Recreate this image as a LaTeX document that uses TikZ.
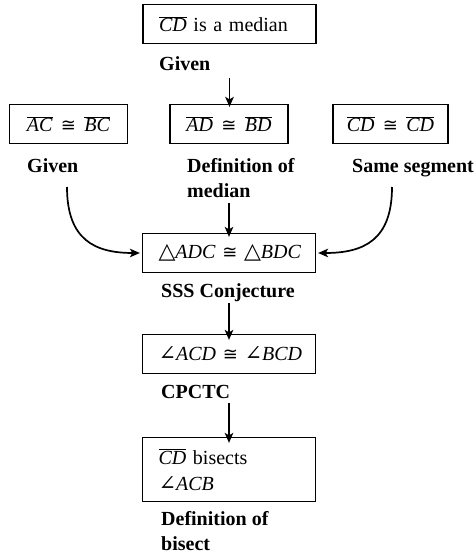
\documentclass[tikz,border=0pt]{standalone}
\usepackage{fontspec}
\setmainfont{Liberation Serif}
\newfontfamily\symf{DejaVu Serif}
\newfontfamily\symsans{DejaVu Sans}
\usetikzlibrary{arrows.meta}
\newcommand{\seg}[1]{$\overline{\mbox{\textit{#1}}}$}
\newcommand{\cng}{{\symsans\fontsize{18}{24}\selectfont ≅}}
\newcommand{\angl}{{\symf\fontsize{21}{24}\selectfont ∠}}
\newcommand{\trig}{{\symf\fontsize{22}{24}\selectfont △}}
\begin{document}
\begin{tikzpicture}[x=1pt,y=-1pt,
  stepbox/.style={draw, line width=1.2pt, inner sep=0pt, font=\fontsize{20}{25}\selectfont},
  widebox/.style={stepbox, minimum width=173pt, minimum height=39pt, text width=141pt, align=left},
  smallbox/.style={stepbox, minimum width=118pt, minimum height=39pt, align=center},
  reason/.style={anchor=base west, inner sep=0pt, font=\fontsize{20}{24.5}\selectfont\bfseries, align=left},
  flow/.style={line width=1.7pt, -{Stealth[length=10pt,width=8.5pt,inset=2.5pt]}}]
\useasboundingbox (0,0) rectangle (475,559);

% boxes
\node[widebox] (median) at (229.5,24) {\seg{CD} is a median};
\node[smallbox] (acbc) at (68.5,124) {\seg{AC}\, \cng{}\, \seg{BC}};
\node[smallbox] (adbd) at (229,124) {\seg{AD}\, \cng{}\, \seg{BD}};
\node[smallbox, minimum width=115pt] (cdcd) at (390.5,124) {\seg{CD}\, \cng{}\, \seg{CD}};
\node[widebox] (tri) at (229,253) {\mbox{\trig\textit{ADC} \cng{} \trig\textit{BDC}}};
\node[widebox] (ang) at (229,354) {\mbox{\angl\textit{ACD} \cng{} \angl\textit{BCD}}};
\node[widebox, minimum height=64pt, font=\fontsize{20}{26}\selectfont] (bis) at (229,469.5) {\seg{CD} bisects\\ \angl\textit{ACB}};

% reasons
\node[reason] (r1) at (159,71) {Given};
\node[reason] (r2) at (27,172) {Given};
\node[reason] (r3) at (187,197) {Definition of\\median};
\node[reason] (r4) at (352,172) {Same segment};
\node[reason] (r5) at (161,297) {SSS Conjecture};
\node[reason] (r6) at (161,398) {CPCTC};
\node[reason] (r7) at (161,550) {Definition of\\bisect};

% connector ends
\coordinate (a1s) at (229.5,78);
\coordinate (a2s) at (229,203);
\coordinate (a3s) at (229,303);
\coordinate (a4s) at (229,403);
\coordinate (cls) at (67,187);
\coordinate (crs) at (392,187);

\draw[flow] (a1s) -- ([yshift=-3pt]median.south |- adbd.north);
\draw[flow] (a2s) -- ([yshift=-4pt]tri.north);
\draw[flow] (a3s) -- ([yshift=-6pt]ang.north);
\draw[flow] (a4s) -- ([yshift=-6pt]bis.north);
\draw[flow] (cls) .. controls (67,240) and (95,253) .. ([xshift=-2pt]tri.west);
\draw[flow] (crs) .. controls (392,240) and (364,253) .. ([xshift=2pt]tri.east);
\end{tikzpicture}
\end{document}
